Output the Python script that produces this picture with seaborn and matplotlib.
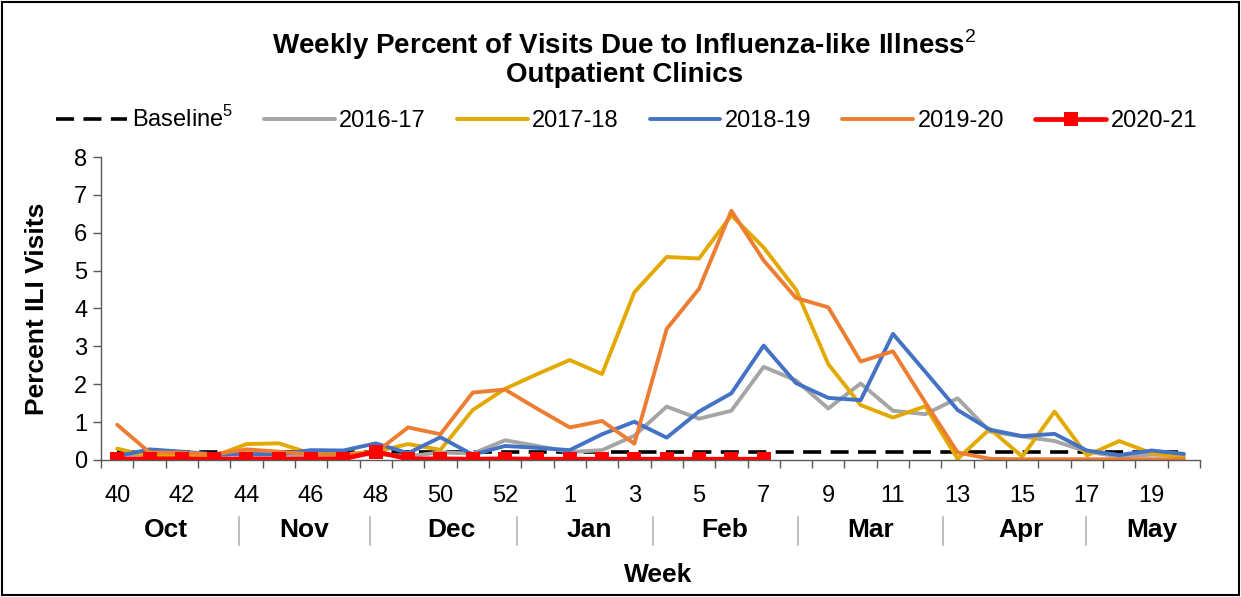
import numpy as np
import matplotlib
matplotlib.use("Agg")
import matplotlib.pyplot as plt
from matplotlib.patches import Rectangle
import seaborn as sns

# season weeks (2020 had a week 53)
weeks = list(range(40, 54)) + list(range(1, 21))
baseline = [0.2] * 34
ili_2016_17 = [0.15, 0.15, 0.12, 0.1, 0.2, 0.15, 0.12, 0.15, 0.15, 0.1, 0.2, 0.17,
               0.52, 0.37, 0.21, 0.26, 0.64, 1.41, 1.09, 1.3, 2.46, 2.1, 1.36, 2.02,
               1.3, 1.21, 1.63, 0.75, 0.62, 0.5, 0.22, 0.09, 0.14, 0.12]
ili_2017_18 = [0.3, 0.1, 0.12, 0.1, 0.42, 0.44, 0.17, 0.15, 0.22, 0.42, 0.27, 1.32,
               1.88, 2.27, 2.64, 2.27, 4.43, 5.36, 5.32, 6.46, 5.61, 4.5, 2.53, 1.45,
               1.12, 1.42, 0.03, 0.82, 0.09, 1.28, 0.12, 0.5, 0.18, 0.07]
ili_2018_19 = [0.1, 0.28, 0.22, 0.15, 0.15, 0.15, 0.26, 0.25, 0.44, 0.18, 0.6, 0.14,
               0.37, 0.32, 0.26, 0.68, 1.01, 0.59, 1.28, 1.76, 3.02, 2.03, 1.64, 1.58,
               3.33, 2.33, 1.32, 0.8, 0.63, 0.69, 0.25, 0.13, 0.25, 0.16]
ili_2019_20 = [0.93, 0.2, 0.19, 0.15, 0.28, 0.22, 0.15, 0.13, 0.2, 0.86, 0.68, 1.78,
               1.86, 1.35, 0.86, 1.03, 0.43, 3.46, 4.52, 6.58, 5.27, 4.28, 4.03, 2.6,
               2.87, 1.52, 0.2, 0.03, 0.02, 0.02, 0.02, 0.02, 0.02, 0.02]
ili_2020_21 = [0.03, 0.03, 0.03, 0.02, 0.03, 0.03, 0.02, 0.03, 0.22, 0.03, 0.03,
               0.02, 0.03, 0.02, 0.02, 0.02, 0.02, 0.02, 0.02, 0.02, 0.02]
months = ["Oct", "Nov", "Dec", "Jan", "Feb", "Mar", "Apr", "May"]

sns.set_theme(style="white")
plt.rcParams["font.family"] = ["Liberation Sans", "DejaVu Sans"]
plt.rcParams["mathtext.fontset"] = "custom"
plt.rcParams["mathtext.rm"] = "Liberation Sans"
plt.rcParams["text.color"] = "black"
plt.rcParams["xtick.labelcolor"] = "black"
plt.rcParams["ytick.labelcolor"] = "black"

fig = plt.figure(figsize=(12.41, 5.97), dpi=100)
ax = fig.add_axes([0.0814, 0.2295, 0.8856, 0.5075])
x = np.arange(len(weeks))

sns.lineplot(x=x, y=baseline, ax=ax, color="black", lw=2.6,
             linestyle=(0, (5, 2.6)), label="Baseline$^{5}$")
sns.lineplot(x=x, y=ili_2016_17, ax=ax, color="#A5A5A5", lw=2.8, label="2016-17")
sns.lineplot(x=x, y=ili_2017_18, ax=ax, color="#E2AA00", lw=2.8, label="2017-18")
sns.lineplot(x=x, y=ili_2018_19, ax=ax, color="#4472C4", lw=2.8, label="2018-19")
sns.lineplot(x=x, y=ili_2019_20, ax=ax, color="#ED7D31", lw=2.8, label="2019-20")
sns.lineplot(x=x[:len(ili_2020_21)], y=ili_2020_21, ax=ax, color="#FF0000", lw=3.4,
             marker="s", markersize=9.5, markeredgewidth=0, label="2020-21")

ax.set_xlim(-0.5, len(weeks) - 0.5)
ax.set_ylim(0, 8)
ax.set_yticks(range(0, 9))
ax.tick_params(axis="y", which="major", left=True, length=6, width=1, pad=4,
               labelsize=17, color="#595959", labelcolor="black")

# labels on every other week, tick marks on category boundaries
ax.set_xticks(x[::2])
ax.set_xticklabels([str(w) for w in weeks[::2]])
ax.set_xticks(np.arange(-0.5, len(weeks)), minor=True)
ax.tick_params(axis="x", which="major", length=0, pad=18, labelsize=17,
               labelcolor="black")
ax.tick_params(axis="x", which="minor", bottom=True, length=6, width=1, color="#595959")
ax.set_xlabel("")
ax.set_ylabel("")

for side in ["top", "right"]:
    ax.spines[side].set_visible(False)
ax.spines["left"].set_color("#595959")
ax.spines["bottom"].set_color("#595959")
ax.spines["left"].set_linewidth(1)
ax.spines["bottom"].set_linewidth(1)

# month row under the weeks
trans = ax.get_xaxis_transform()
month_mid = [1.52, 5.78, 10.33, 14.6, 18.8, 23.3, 27.95, 32.0]
month_sep = [3.76, 7.82, 12.38, 16.57, 21.05, 25.54, 29.96]
for m, c in zip(months, month_mid):
    ax.text(c, -0.232, m, transform=trans, ha="center", va="center",
            fontsize=19, fontweight="bold", color="black")
for s in month_sep:
    ax.plot([s, s], [-0.188, -0.28], transform=trans, color="#BFBFBF",
            lw=1.5, clip_on=False)

fig.text(0.503, 0.925, "Weekly Percent of Visits Due to Influenza-like Illness$^{2}$",
         ha="center", va="center", fontsize=20, fontweight="bold", color="black")
fig.text(0.503, 0.874, "Outpatient Clinics", ha="center", va="center",
         fontsize=20, fontweight="bold", color="black")
fig.text(0.03, 0.483, "Percent ILI Visits", rotation=90, ha="center", va="center",
         fontsize=19, fontweight="bold", color="black")
fig.text(0.53, 0.037, "Week", ha="center", va="center", fontsize=19,
         fontweight="bold", color="black")

handles, labels = ax.get_legend_handles_labels()
ax.get_legend().remove()
leg = fig.legend(handles, labels, loc="center", bbox_to_anchor=(0.505, 0.80), ncol=6,
                 frameon=False, fontsize=17, handlelength=3.0, columnspacing=1.3,
                 handletextpad=0.2)
for t in leg.get_texts():
    t.set_color("black")

fig.patches.append(Rectangle((0.002, 0.003), 0.996, 0.994, transform=fig.transFigure,
                             fill=False, ec="black", lw=1.5))

fig.savefig("out.png", dpi=100)
